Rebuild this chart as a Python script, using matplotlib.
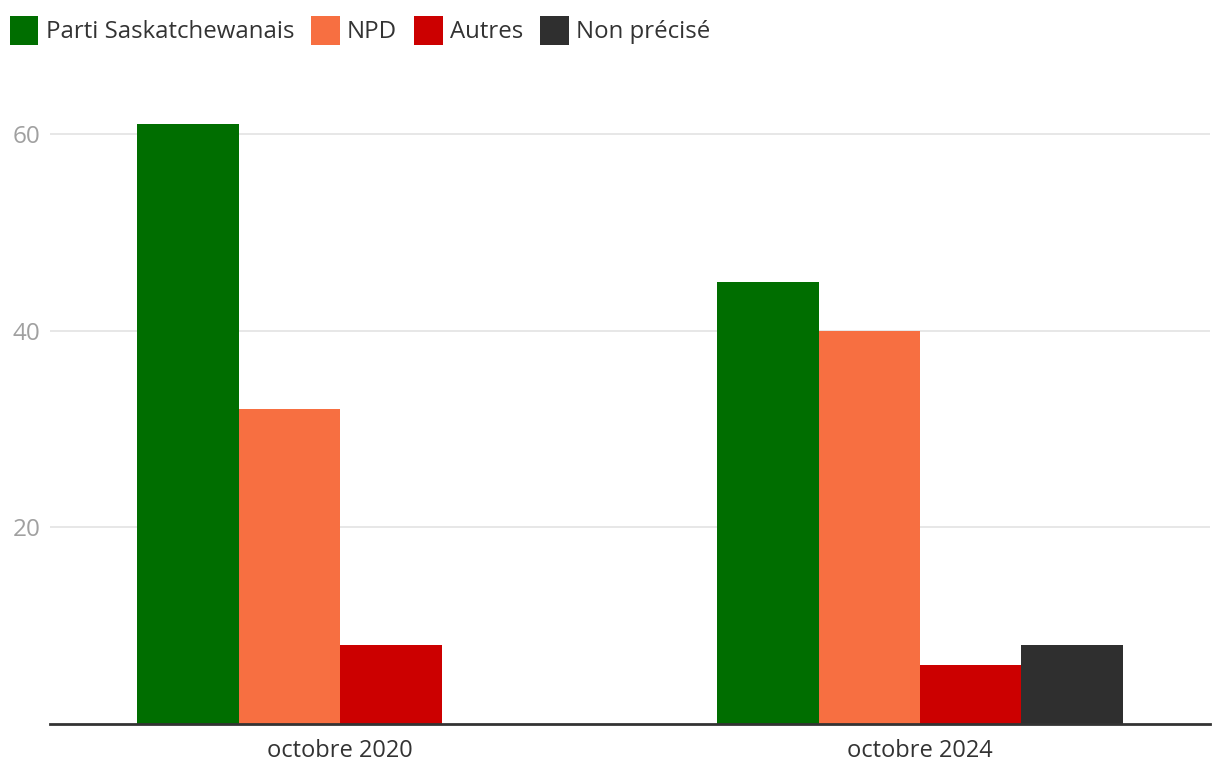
import numpy as np
import matplotlib.pyplot as plt

plt.rcParams['font.family'] = ['Open Sans', 'DejaVu Sans']

categories = ["octobre 2020", "octobre 2024"]
series_names = ["Parti Saskatchewanais", "NPD", "Autres", "Non précisé"]
series_values = [
    [61, 45],
    [32, 40],
    [8, 6],
    [None, 8],
]
colors = ["#006e00", "#f76f41", "#cc0000", "#2f2f2f"]
y_ticks = [20, 40, 60]

fig = plt.figure(figsize=(12.2, 7.78), dpi=100)
ax = fig.add_axes([50 / 1220, 54 / 778, 1160 / 1220, 639 / 778])

x = np.arange(len(categories))
width = 0.175
n = len(series_names)
for i, (name, vals, col) in enumerate(zip(series_names, series_values, colors)):
    offset = (i - (n - 1) / 2) * width
    xs = [xi + offset for xi, v in zip(x, vals) if v is not None]
    ys = [v for v in vals if v is not None]
    ax.bar(xs, ys, width=width, color=col, label=name, zorder=3)

ax.set_xlim(-0.5, 1.5)
ax.set_ylim(0, 65)
ax.set_xticks(x)
ax.set_xticklabels(categories, fontsize=17, color="#333333")
ax.set_yticks(y_ticks)
ax.set_yticklabels([str(t) for t in y_ticks], fontsize=17.5, color="#a0a0a0")
ax.tick_params(axis="y", length=0, pad=7)
ax.tick_params(axis="x", length=0, pad=11)
ax.grid(axis="y", color="#e3e3e3", linewidth=1.2, zorder=0)
for s in ["top", "right", "left"]:
    ax.spines[s].set_visible(False)
ax.spines["bottom"].set_color("#333333")
ax.spines["bottom"].set_linewidth(2)
ax.spines["bottom"].set_zorder(4)

fig.legend(loc="upper left", bbox_to_anchor=(10 / 1220, 1 - 16 / 778), ncol=4,
           frameon=False, fontsize=17.3, handlelength=1.18, handleheight=1.45,
           handletextpad=0.3, columnspacing=0.72, borderpad=0, borderaxespad=0,
           labelcolor="#333333")

fig.savefig("out.png", dpi=100)
